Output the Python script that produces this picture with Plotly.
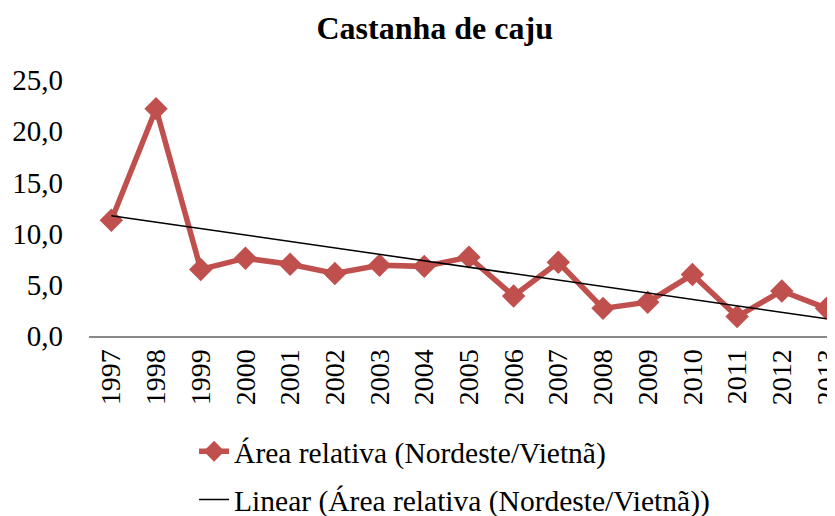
import numpy as np
import plotly.graph_objects as go

anos = ["1997", "1998", "1999", "2000", "2001", "2002", "2003", "2004", "2005",
        "2006", "2007", "2008", "2009", "2010", "2011", "2012", "2013"]
area_relativa = [11.3, 22.2, 6.5, 7.6, 7.0, 6.1, 6.9, 6.8, 7.7,
                 3.9, 7.2, 2.7, 3.3, 6.0, 1.9, 4.4, 2.7]
y_ticks = [0, 5, 10, 15, 20, 25]
y_tick_labels = ["0,0", "5,0", "10,0", "15,0", "20,0", "25,0"]

# linear trendline (least squares, like Excel's "Linear" trendline)
idx = np.arange(len(anos))
slope, intercept = np.polyfit(idx, area_relativa, 1)
tendencia = slope * idx + intercept

serif = "'Liberation Serif', 'Times New Roman', serif"

fig = go.Figure()
fig.add_trace(
    go.Scatter(
        x=anos,
        y=area_relativa,
        mode="lines+markers",
        name="Área relativa (Nordeste/Vietnã)",
        line=dict(color="#C0504D", width=5.5),
        marker=dict(symbol="diamond", size=18, color="#C0504D"),
        legendgroup="a",
    )
)
fig.add_trace(
    go.Scatter(
        x=anos,
        y=tendencia,
        mode="lines",
        name="Linear (Área relativa (Nordeste/Vietnã))",
        line=dict(color="black", width=1.5),
        legendgroup="b",
    )
)
# page body has an 8px margin, so the figure is sized/offset to fill the window
fig.update_layout(
    width=827,
    height=508,
    margin=dict(l=81, r=0, t=72, b=180, autoexpand=False),
    paper_bgcolor="white",
    plot_bgcolor="white",
    font=dict(family=serif, size=29, color="black"),
    title=dict(
        text="<b>Castanha de caju</b>",
        x=0.516,
        xanchor="center",
        y=0.961,
        yanchor="middle",
        font=dict(family=serif, size=32, color="black"),
    ),
    xaxis=dict(
        type="category",
        range=[-0.5, 16.19],
        tickangle=-90,
        showgrid=False,
        showline=True,
        linecolor="#898989",
        linewidth=2,
        ticks="",
        automargin=False,
        tickfont=dict(family=serif, size=28),
    ),
    yaxis=dict(
        range=[0, 25],
        tickvals=y_ticks,
        ticktext=y_tick_labels,
        showgrid=False,
        showline=False,
        zeroline=False,
        ticks="",
        automargin=False,
        ticklabelstandoff=25,
        tickfont=dict(family=serif, size=29),
    ),
    legend=dict(
        orientation="v",
        xref="container",
        yref="container",
        x=0.225,
        xanchor="left",
        y=0.178,
        yanchor="top",
        tracegroupgap=7,
        font=dict(family=serif, size=29.5),
    ),
    showlegend=True,
)

fig.write_html("out.html")
